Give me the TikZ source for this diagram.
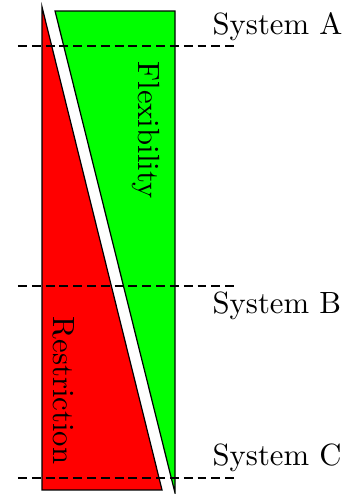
\documentclass[tikz,border=0pt]{standalone}
\usepackage{tikz}
\usepackage{xcolor}
\usetikzlibrary{calc,positioning}
\definecolor{restrRed}{RGB}{255,0,0}
\definecolor{flexGreen}{RGB}{0,255,0}
\tikzset{
  wedge/.style={draw=black,line width=.4pt},
  sysline/.style={draw=black,line width=.7pt,dash pattern=on 2.9pt off 1.6pt},
  syslabel/.style={anchor=base west,inner sep=0pt},
  wedgelabel/.style={rotate=-90,inner sep=0pt}
}

\begin{document}
\begin{tikzpicture}
\useasboundingbox (0,0) rectangle (3.950,5.656);
% the two wedges
\coordinate (rTop) at (0.481,5.576);
\coordinate (rBot) at (0.481,0.046);
\coordinate (rTip) at (1.855,0.046);
\coordinate (gTop) at (0.630,5.530);
\coordinate (gCor) at (2.004,5.530);
\coordinate (gTip) at (2.004,0.011);
\filldraw[wedge,fill=restrRed] (rTop) -- (rBot) -- (rTip) -- cycle;
\filldraw[wedge,fill=flexGreen] (gTop) -- (gCor) -- (gTip) -- cycle;
\node[wedgelabel] (flex) at (1.668,4.168) {Flexibility};
\node[wedgelabel] (restr) at (0.727,1.185) {Restriction};
% system levels
\coordinate (aL) at (0.206,5.130); \coordinate (aR) at (2.679,5.130);
\coordinate (bL) at (0.206,2.382); \coordinate (bR) at (2.679,2.382);
\coordinate (cL) at (0.206,0.183); \coordinate (cR) at (2.679,0.183);
\draw[sysline] (aL) -- (aR);
\draw[sysline] (bL) -- (bR);
\draw[sysline] (cL) -- (cR);
\node[syslabel] (sysA) at (2.428,5.263) {System A};
\node[syslabel] (sysB) at (2.428,2.061) {System B};
\node[syslabel] (sysC) at (2.428,0.332) {System C};
\end{tikzpicture}
\end{document}
